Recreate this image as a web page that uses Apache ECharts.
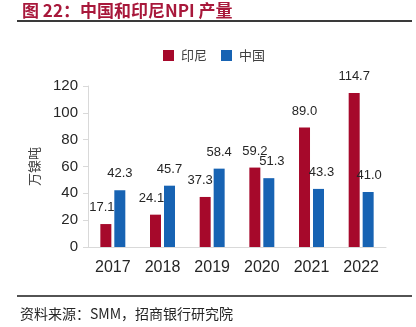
<!DOCTYPE html>
<html>
<head>
<meta charset="utf-8">
<script src="https://cdn.jsdelivr.net/npm/echarts@6/dist/echarts.min.js"></script>
<style>
  html, body { margin: 0; padding: 0; background: #ffffff; }
  #chart { width: 416px; height: 327px; }
</style>
</head>
<body>
<div id="chart"></div>
<script>
// NPI output of Indonesia and China, 10k tonnes of nickel
const years = ['2017', '2018', '2019', '2020', '2021', '2022'];
const indonesia = [17.1, 24.1, 37.3, 59.2, 89.0, 114.7];
const china = [42.3, 45.7, 58.4, 51.3, 43.3, 41.0];
const yTicks = { min: 0, max: 120, interval: 20 };

// horizontal nudges that keep value labels clear of the neighbouring bar
const indonesiaLabelShift = [-4, -4, -5, 0, 0, 0];
const chinaLabelShift = [0, 0, 0, 3, 3, 1];

const RED = '#a6092b';
const BLUE = '#1763b3';
const CJK = '"Noto Sans CJK SC", sans-serif';
const LATIN = '"Liberation Sans", Arial, sans-serif';

const chart = echarts.init(document.getElementById('chart'), null, { renderer: 'canvas' });

const valueLabel = {
  show: true,
  position: 'top',
  distance: 10,
  fontFamily: LATIN,
  fontSize: 13,
  color: '#262626',
  formatter: p => p.value.toFixed(1)
};

function withShifts(values, shifts) {
  return values.map((v, i) => ({ value: v, label: { offset: [shifts[i], 0] } }));
}

chart.setOption({
  animation: false,
  backgroundColor: '#ffffff',
  graphic: [
    {
      type: 'text', left: 22, top: 2,
      style: { text: '图 22：中国和印尼NPI 产量', fontFamily: CJK, fontWeight: 'bold', fontSize: 17, fill: '#a8183b' }
    },
    {
      type: 'line', shape: { x1: 17, y1: 21, x2: 412, y2: 21 },
      style: { stroke: '#3a3a3a', lineWidth: 2 }
    },
    {
      type: 'line', shape: { x1: 17, y1: 296, x2: 412, y2: 296 },
      style: { stroke: '#1a1a1a', lineWidth: 1.5 }
    },
    {
      type: 'text', left: 20, top: 307,
      style: { text: '资料来源：SMM，招商银行研究院', fontFamily: CJK, fontSize: 14, fill: '#262626' }
    }
  ],
  legend: {
    left: 163, top: 49, padding: 0,
    itemWidth: 11, itemHeight: 11, itemGap: 14,
    icon: 'rect',
    textStyle: { fontFamily: CJK, fontSize: 13, color: '#404040', padding: [0, 0, 0, 2] },
    data: ['印尼', '中国']
  },
  grid: { left: 88, right: 30, top: 86, bottom: 80 },
  xAxis: {
    type: 'category',
    data: years,
    axisLine: { lineStyle: { color: '#d9d9d9', width: 1 } },
    axisTick: { show: false },
    axisLabel: { fontFamily: LATIN, fontSize: 16, color: '#262626', margin: 13 }
  },
  yAxis: {
    type: 'value',
    min: yTicks.min, max: yTicks.max, interval: yTicks.interval,
    name: '万镍吨',
    nameLocation: 'middle',
    nameRotate: 90,
    nameGap: 47,
    nameTextStyle: { fontFamily: CJK, fontSize: 13, color: '#404040' },
    axisLine: { show: true, lineStyle: { color: '#d9d9d9', width: 1 } },
    axisTick: { show: true, length: 5, lineStyle: { color: '#d9d9d9' } },
    splitLine: { show: false },
    axisLabel: { fontFamily: LATIN, fontSize: 15, color: '#262626', margin: 10 }
  },
  series: [
    {
      name: '印尼', type: 'bar', data: withShifts(indonesia, indonesiaLabelShift),
      barWidth: 11, barGap: '27%',
      itemStyle: { color: RED },
      label: valueLabel
    },
    {
      name: '中国', type: 'bar', data: withShifts(china, chinaLabelShift),
      barWidth: 11,
      itemStyle: { color: BLUE },
      label: valueLabel
    }
  ]
});
</script>
</body>
</html>
